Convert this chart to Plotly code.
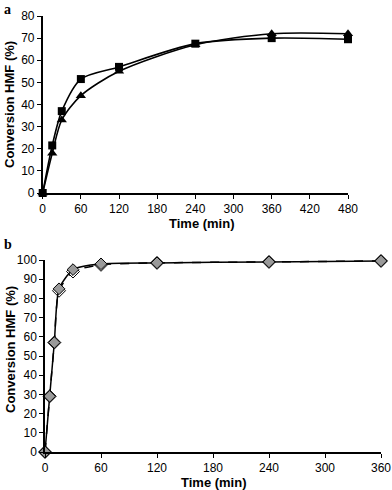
import plotly.graph_objects as go

# Panel a
time_a = [0, 15, 30, 60, 120, 240, 360, 480]
conv_a_square = [0, 21.5, 37, 51.5, 57, 67.5, 70, 69.5]
conv_a_triangle = [0, 18, 33, 44, 55, 67, 72, 72]

# Panel b
time_b = [0, 5, 10, 15, 30, 60, 120, 240, 360]
conv_b_solid = [0, 29, 57, 85, 95, 98, 98.5, 99, 99.5]
conv_b_dashed = [0, 29, 57, 84, 94, 97.5, 98.5, 99, 99.5]

xticks_a = [0, 60, 120, 180, 240, 300, 360, 420, 480]
yticks_a = [0, 10, 20, 30, 40, 50, 60, 70, 80]
xticks_b = [0, 60, 120, 180, 240, 300, 360]
yticks_b = [0, 10, 20, 30, 40, 50, 60, 70, 80, 90, 100]

W, H = 392, 490
def px(x): return x / W
def py(y): return 1 - y / H

fig = go.Figure()
fig.add_trace(go.Scatter(x=time_a, y=conv_a_square, mode="lines+markers",
    line=dict(color="black", width=1.6, shape="spline", smoothing=0.8),
    marker=dict(symbol="square", size=8, color="black"),
    cliponaxis=False, xaxis="x", yaxis="y"))
fig.add_trace(go.Scatter(x=time_a, y=conv_a_triangle, mode="lines+markers",
    line=dict(color="black", width=1.6, shape="spline", smoothing=0.8),
    marker=dict(symbol="triangle-up", size=9, color="black"),
    cliponaxis=False, xaxis="x", yaxis="y"))
fig.add_trace(go.Scatter(x=time_b, y=conv_b_dashed, mode="lines+markers",
    line=dict(color="black", width=1.5, dash="dash", shape="spline", smoothing=0.6),
    marker=dict(symbol="diamond", size=10, color="white", line=dict(color="black", width=1)),
    cliponaxis=False, xaxis="x2", yaxis="y2"))
fig.add_trace(go.Scatter(x=time_b, y=conv_b_solid, mode="lines+markers",
    line=dict(color="black", width=1.5, shape="spline", smoothing=0.6),
    marker=dict(symbol="diamond", size=9, color="#9a9a9a", line=dict(color="black", width=1)),
    cliponaxis=False, xaxis="x2", yaxis="y2"))

axis_common = dict(showline=True, linecolor="black", linewidth=1.5, ticks="outside",
                   ticklen=4, tickcolor="black", tickwidth=1.2, showgrid=False, zeroline=False,
                   automargin=False,
                   tickfont=dict(family="Liberation Sans, Arial", size=12, color="black"))

fig.update_layout(
    width=W, height=H, margin=dict(l=0, r=0, t=0, b=0),
    paper_bgcolor="white", plot_bgcolor="white", showlegend=False,
    xaxis=dict(domain=[px(42.7), px(348)], range=[0, 480], tickvals=xticks_a,
               anchor="y", **axis_common),
    yaxis=dict(domain=[py(193), py(16)], range=[0, 80], tickvals=yticks_a,
               anchor="x", **axis_common),
    xaxis2=dict(domain=[px(45), px(381)], range=[0, 360], tickvals=xticks_b,
                anchor="y2", **axis_common),
    yaxis2=dict(domain=[py(452), py(260)], range=[0, 100], tickvals=yticks_b,
                anchor="x2", **axis_common),
)

title_font = dict(family="Liberation Sans, Arial", size=13, color="black")
anns = [
    dict(text="<b>a</b>", x=px(2), y=py(9), xanchor="left", yanchor="middle",
         font=dict(family="Liberation Serif, Times New Roman", size=14, color="black")),
    dict(text="<b>b</b>", x=px(2), y=py(244), xanchor="left", yanchor="middle",
         font=dict(family="Liberation Serif, Times New Roman", size=14, color="black")),
    dict(text="<b>Conversion HMF (%)</b>", x=px(9), y=py(105), textangle=-90,
         xanchor="center", yanchor="middle", font=title_font),
    dict(text="<b>Conversion HMF (%)</b>", x=px(10), y=py(350), textangle=-90,
         xanchor="center", yanchor="middle", font=title_font),
    dict(text="<b>Time (min)</b>", x=px(202), y=py(223), xanchor="center", yanchor="middle",
         font=title_font),
    dict(text="<b>Time (min)</b>", x=px(214), y=py(482), xanchor="center", yanchor="middle",
         font=title_font),
]
for a in anns:
    a.update(xref="paper", yref="paper", showarrow=False)
fig.update_layout(annotations=anns)

fig.write_html("out.html", config={"displayModeBar": False},
               post_script="document.body.style.margin='0';document.body.style.padding='0';")
